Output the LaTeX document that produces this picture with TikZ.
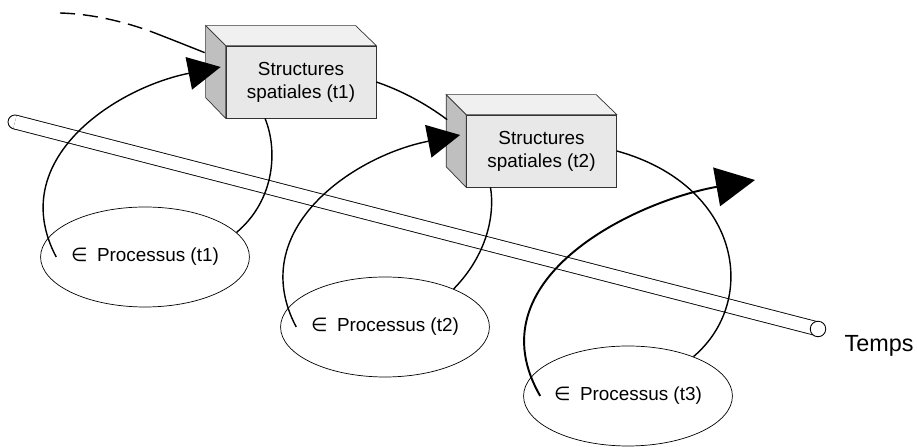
\documentclass[tikz,border=0pt]{standalone}
\usepackage{fontspec}
\setmainfont{Liberation Sans}
\newfontfamily\symfont{DejaVu Sans}
\usetikzlibrary{arrows.meta,shapes.geometric}

\tikzset{
    boxfront/.style={draw=black!80, fill=gray!18, minimum width=30mm, minimum height=14.4mm, align=center, inner sep=0pt},
    boxside/.style={draw=black!80, fill=gray!50},
    boxtop/.style={draw=black!80, fill=gray!12},
    proc/.style={draw, ellipse, minimum width=41mm, minimum height=20mm, inner sep=0pt},
    link/.style={line width=0.8pt},
    bigtip/.style={-{Triangle[length=6.5mm, width=6.6mm]}},
}

\begin{document}
\begin{tikzpicture}[x=0.2mm, y=-0.2mm, font=\fontsize{10.75}{13.1}\selectfont]
    \useasboundingbox (0,0) rectangle (917,447);

    % Time tube
    \coordinate (ta) at (15,122);
    \coordinate (tb) at (818,329);
    \draw[line width=0.5pt, fill=white] (ta) circle (1.4mm);
    \draw[line width=0.5pt, double=white, double distance=2.6mm] (ta) -- (tb);
    \draw[line width=0.5pt, fill=white] (tb) circle (1.55mm);
    \node[font=\fontsize{13.3}{15}\selectfont] (temps) at (879,346) {Temps};

    % Spatial structures
    \node[boxfront] (s1) at (301,82) {Structures\\spatiales (t1)};
    \node[boxfront] (s2) at (541.5,151) {Structures\\spatiales (t2)};
    \foreach \b in {s1,s2} {
        \draw[boxside] (\b.north west) -- ++(-20,-20) -- ++(0,72) -- (\b.south west) -- cycle;
        \draw[boxtop] (\b.north west) -- ++(-20,-20) -- ++(150,0) -- (\b.north east) -- cycle;
    }

    % Processes
    \node[proc] (p1) at (145,257) {{\symfont ∈}\hspace{0.5em}Processus (t1)};
    \node[proc] (p2) at (385,327) {{\symfont ∈}\hspace{0.5em}Processus (t2)};
    \node[proc] (p3) at (628,396) {{\symfont ∈}\hspace{0.5em}Processus (t3)};

    % Coming from the previous step
    \coordinate (prev) at (60,13);
    \coordinate (prevb) at (160,35);
    \draw[link, dash pattern=on 3mm off 1.6mm] (prev) .. controls (95,14) and (130,23) .. (prevb);
    \draw[link] (prevb) .. controls (178,42) and (193,48) .. ([shift={(-21,7)}]s1.north west);

    % Loop t1
    \draw[link, bigtip] ([shift={(16,0)}]p1.west) .. controls (5,160) and (115,88) .. ([shift={(-5,-15)}]s1.west);
    \draw[link] ([shift={(-36,0)}]s1.south) .. controls (278,150) and (275,200) .. (p1.15);
    \draw[link] (s1.east) .. controls (400,90) and (425,103) .. ([shift={(-19,5)}]s2.north west);

    % Loop t2
    \draw[link, bigtip] ([shift={(16,0)}]p2.west) .. controls (245,230) and (353,156) .. ([shift={(-6,-16)}]s2.west);
    \draw[link] ([shift={(-51,0)}]s2.south) .. controls (495,215) and (487,255) .. (p2.29);
    \draw[link] (s2.east) .. controls (740,185) and (760,300) .. (p3.31);

    % Loop t3
    \coordinate (next) at (755,180);
    \draw[link, line width=1.1pt, -{Triangle[length=7.8mm, width=7.8mm]}] ([shift={(17,0)}]p3.west) .. controls (473,280) and (632,202) .. (next);
\end{tikzpicture}
\end{document}
